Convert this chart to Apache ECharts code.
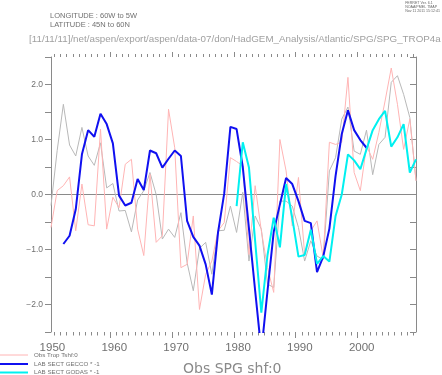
<!DOCTYPE html>
<html><head><meta charset="utf-8">
<script src="https://cdn.jsdelivr.net/npm/echarts@6/dist/echarts.min.js"></script>
<style>html,body{margin:0;padding:0;background:#fff}#c{width:442px;height:375px}</style>
</head><body><div id="c"></div>
<script>
// ---- data (annual values, plotted at mid-year) ----
const obsStartYear = 1950;
const obsSPG = [-0.20,0.80,1.64,0.90,0.70,1.22,0.70,0.53,0.94,0.12,
                0.20,-0.30,-0.29,-0.68,-0.10,0.07,0.40,0.00,-0.81,-0.63,
                -0.78,-0.33,-1.24,-1.75,-0.98,-0.87,-1.45,-0.66,-0.65,-0.21,
                -0.69,0.04,-1.21,-0.39,-0.63,-1.63,-1.69,-0.12,-0.12,-0.21,
                -0.60,-1.21,-0.84,-1.12,-1.18,0.43,0.67,1.37,1.59,0.79,
                0.73,1.17,0.36,0.91,1.04,2.04,2.16,1.82,1.40,0.25];
const obsTrop = [-0.60,0.07,0.16,0.32,-0.66,0.19,-0.55,-0.57,1.19,-0.63,
                 -0.05,-0.24,0.55,0.64,-0.63,-1.11,0.37,-0.87,-0.75,1.55,
                 0.85,-1.33,-1.27,-0.39,-2.09,-1.45,-1.21,-0.66,-0.51,0.67,
                 0.60,0.52,-1.09,0.16,-0.66,-1.33,-1.78,1.00,0.43,-0.57,
                 0.31,-1.09,-0.66,-0.48,-1.15,0.95,0.91,0.95,2.13,0.40,
                 0.07,0.88,0.64,1.13,1.70,2.30,1.64,0.82,1.37,0.25];
const geccoStartYear = 1952;
const gecco = [-0.90,-0.75,-0.27,0.73,1.17,1.05,1.47,1.28,0.93,-0.02,
               -0.20,-0.15,0.28,0.08,0.80,0.75,0.49,0.65,0.80,0.70,
               -0.48,-0.77,-0.93,-1.27,-1.82,-0.69,0.02,1.23,1.19,0.50,
               -0.62,-1.75,-2.85,-1.75,-0.68,-0.18,0.30,0.19,-0.12,-0.48,
               -0.52,-1.41,-1.13,-0.62,0.34,1.10,1.53,1.17,0.99,0.85];
const godasStartYear = 1980;
const godas = [-0.21,0.95,0.49,-0.85,-2.15,-1.10,-0.42,-0.96,0.19,-0.43,
               -1.13,-1.10,-0.64,-1.26,-1.12,-1.22,-0.39,0.00,0.73,0.62,
               0.46,0.82,1.17,1.37,1.52,0.87,1.04,1.28,0.40,0.64];
const xTickLabels = [1950,1960,1970,1980,1990,2000];
const yTickLabels = [-2,-1,0,1,2];
const legendNames = ['Obs Trop Tshf:0','LAB SECT GECCO * -1','LAB SECT GODAS * -1'];
const titleText = 'Obs SPG shf:0';

const toXY = (start, arr) => arr.map((v,i)=>[start+i+0.5, v]);
const yearTicks = []; for (let y=1951;y<=2009;y++) yearTicks.push([y, 0]);

const AX = '#8a8a8a', TX = '#707070';
const XMIN = 1950.5, XMAX = 2009.5, YMIN = -2.5, YMAX = 2.5, PXPERYR = 6.19, LBLSHIFT = 4.5/PXPERYR;

const chart = echarts.init(document.getElementById('c'), null, {renderer:'canvas'});
chart.setOption({
  animation:false,
  grid:{left:51, right:26, top:57, bottom:43, containLabel:false},
  xAxis:[
    {type:'value', min:XMIN, max:XMAX, position:'bottom', splitLine:{show:false},
      axisLine:{show:true, lineStyle:{color:AX}}, axisTick:{show:false}, axisLabel:{show:false}},
    {type:'value', min:XMIN, max:XMAX, position:'top', splitLine:{show:false},
      axisLine:{show:true, lineStyle:{color:AX}}, axisTick:{show:false}, axisLabel:{show:false}},
    {type:'value', position:'bottom', min:XMIN-LBLSHIFT, max:XMAX-LBLSHIFT, splitLine:{show:false},
      axisLine:{show:false}, axisTick:{show:false},
      axisLabel:{customValues:xTickLabels, margin:10, color:TX, fontSize:11.5, fontFamily:'Liberation Sans',
        formatter:v=>String(v)}}
  ],
  yAxis:[
    {type:'value', position:'left', min:YMIN, max:YMAX, interval:0.5, splitLine:{show:false},
      axisLine:{show:true, lineStyle:{color:AX}},
      axisTick:{show:true, length:6, lineStyle:{color:AX}},
      axisLabel:{margin:8, color:TX, fontSize:8.5, fontFamily:'Liberation Sans',
        formatter:v=> yTickLabels.includes(v) ? (v<0?'\u2212':'')+Math.abs(v).toFixed(1) : ''}},
    {type:'value', position:'right', min:YMIN, max:YMAX, interval:0.5, splitLine:{show:false},
      axisLine:{show:true, lineStyle:{color:AX}},
      axisTick:{show:true, inside:true, length:6, lineStyle:{color:AX}},
      axisLabel:{show:false}}
  ],
  series:[
    {type:'custom', coordinateSystem:'cartesian2d', xAxisIndex:0, yAxisIndex:0, clip:false, silent:true,
      data:yearTicks, z:1,
      renderItem:(params, api)=>{
        const yr = api.value(0), major = yr % 10 === 0;
        const b = api.coord([yr, YMIN]), t = api.coord([yr, YMAX]);
        const x = Math.round(b[0]) + 0.5;
        return {type:'group', children:[
          {type:'line', shape:{x1:x, y1:b[1], x2:x, y2:b[1] + (major?6:3.5)}, style:{stroke:AX, lineWidth:1}},
          {type:'line', shape:{x1:x, y1:t[1], x2:x, y2:t[1] - (major?5:3)}, style:{stroke:AX, lineWidth:1}}
        ]};
      }},
    {type:'line', name:titleText, data:toXY(obsStartYear, obsSPG), showSymbol:false, symbol:'none',
      lineStyle:{color:'#b8b8b8', width:1}, clip:true, z:2},
    {type:'line', name:legendNames[0], data:toXY(obsStartYear, obsTrop), showSymbol:false, symbol:'none',
      lineStyle:{color:'#ffb4b4', width:1}, clip:true, z:3},
    {type:'line', name:legendNames[1], data:toXY(geccoStartYear, gecco), showSymbol:false, symbol:'none',
      lineStyle:{color:'#1010f0', width:2}, clip:true, z:4},
    {type:'line', name:legendNames[2], data:toXY(godasStartYear, godas), showSymbol:false, symbol:'none',
      lineStyle:{color:'#00f0f0', width:2}, clip:true, z:5}
  ],
  graphic:[
    {type:'text', left:50, top:12, style:{text:'LONGITUDE : 60W to 5W', fill:'#707070', font:'7.5px "Liberation Sans"'}},
    {type:'text', left:50, top:21, style:{text:'LATITUDE : 45N to 60N', fill:'#707070', font:'7.5px "Liberation Sans"'}},
    {type:'text', left:29, top:34, style:{text:'[11/11/11]/net/aspen/export/aspen/data-07/don/HadGEM_Analysis/Atlantic/SPG/SPG_TROP4a', fill:'#a0a0a0', font:'9.8px "Liberation Sans"'}},
    {type:'text', right:2, top:1, style:{text:'FERRET Ver. 6.1\nNOAA/PMEL TMAP\nNov 11 2011 15:12:41', fill:'#666', font:'3.6px "Liberation Sans"', align:'right', lineHeight:3.8}},
    {type:'line', shape:{x1:0,y1:355,x2:28,y2:355}, style:{stroke:'#ffb4b4', lineWidth:1}},
    {type:'line', shape:{x1:0,y1:364,x2:28,y2:364}, style:{stroke:'#1010f0', lineWidth:2}},
    {type:'line', shape:{x1:0,y1:372.5,x2:28,y2:372.5}, style:{stroke:'#00f0f0', lineWidth:2}},
    {type:'text', left:34, top:352, style:{text:legendNames[0], fill:'#707070', font:'6.2px "Liberation Sans"'}},
    {type:'text', left:34, top:361, style:{text:legendNames[1], fill:'#707070', font:'6.2px "Liberation Sans"'}},
    {type:'text', left:34, top:369.5, style:{text:legendNames[2], fill:'#707070', font:'6.2px "Liberation Sans"'}},
    {type:'text', left:183, top:362, style:{text:titleText, fill:'#8a8a8a', font:'14px "DejaVu Sans"'}}
  ]
});
</script></body></html>
